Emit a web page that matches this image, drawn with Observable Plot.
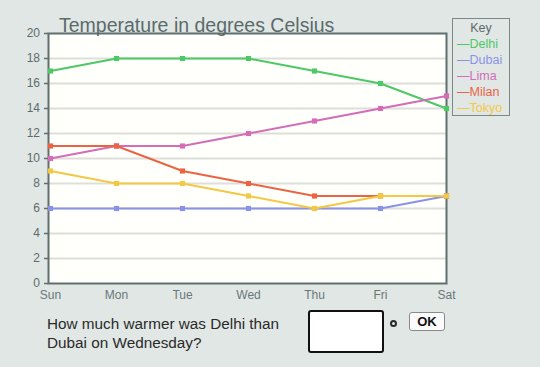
<!DOCTYPE html>
<html>
<head>
<meta charset="utf-8">
<script src="https://cdn.jsdelivr.net/npm/d3@7"></script>
<script src="https://cdn.jsdelivr.net/npm/@observablehq/plot@0.6"></script>
<style>
  html, body { margin: 0; padding: 0; }
  body { width: 540px; height: 367px; overflow: hidden; background: #e1e7e5; position: relative;
         font-family: "Liberation Sans", Arial, sans-serif; }
  #chart { position: absolute; left: 0; top: 0; }
  #title { position: absolute; left: 59px; top: 15px; font-size: 19.5px; line-height: 20px; color: #5b6b6b; white-space: nowrap; }
  #legend { position: absolute; left: 452px; top: 18px; width: 56px; height: 95px; border: 1px solid #7b8888;
            font-size: 12.5px; line-height: 16px; padding-top: 1px; box-sizing: content-box; }
  #legend .key { text-align: center; color: #5b6a6a; }
  #legend .item { padding-left: 4px; white-space: nowrap; }
  #question { position: absolute; left: 47px; top: 314px; font-size: 15.3px; line-height: 19px; color: #2a2a2a; width: 250px; }
  #answer { position: absolute; left: 308px; top: 310px; width: 76px; height: 43px; box-sizing: border-box;
            border: 2px solid #111; border-radius: 3px; background: #fff; }
  #dot { position: absolute; left: 389.5px; top: 319.5px; width: 7px; height: 7px; box-sizing: border-box;
         border: 2px solid #2a2a2a; border-radius: 50%; }
  #ok { position: absolute; left: 409px; top: 312px; width: 36px; height: 19px; box-sizing: border-box;
        border: 1px solid #8a8a8a; border-radius: 3px; background: #fbfbfb; font-weight: bold; font-size: 13px;
        line-height: 17px; text-align: center; color: #111; }
</style>
</head>
<body>
<div id="chart"></div>
<div id="title">Temperature in degrees Celsius</div>
<div id="legend"></div>
<div id="question">How much warmer was Delhi than Dubai on Wednesday?</div>
<div id="answer"></div>
<div id="dot"></div>
<div id="ok">OK</div>
<script>
const days = ["Sun", "Mon", "Tue", "Wed", "Thu", "Fri", "Sat"];
const cities = ["Delhi", "Dubai", "Lima", "Milan", "Tokyo"];
const colors = ["#4cc865", "#8a92e8", "#d46cb8", "#ea6444", "#f2c844"];
const delhi = [17, 18, 18, 18, 17, 16, 14];
const dubai = [6, 6, 6, 6, 6, 6, 7];
const lima = [10, 11, 11, 12, 13, 14, 15];
const milan = [11, 11, 9, 8, 7, 7, 7];
const tokyo = [9, 8, 8, 7, 6, 7, 7];
const yTicks = [0, 2, 4, 6, 8, 10, 12, 14, 16, 18, 20];
const gridTicks = [2, 4, 6, 8, 10, 12, 14, 16, 18];

const seriesValues = [delhi, dubai, lima, milan, tokyo];
const data = [];
cities.forEach((c, i) => seriesValues[i].forEach((v, j) => data.push({city: c, day: days[j], temp: v})));

const font = "Liberation Sans, Arial, sans-serif";
const axisColor = "#5f6e6e";

const chart = Plot.plot({
  width: 540,
  height: 305,
  marginLeft: 48,
  marginRight: 94,
  marginTop: 33,
  marginBottom: 22,
  style: {background: "transparent", fontFamily: font},
  x: {type: "point", domain: days, range: [50, 446], padding: 0},
  y: {domain: [0, 20]},
  color: {domain: cities, range: colors},
  marks: [
    Plot.frame({fill: "#fffffb", stroke: null}),
    Plot.gridY(gridTicks, {stroke: "#dededb", strokeOpacity: 1, strokeWidth: 2}),
    Plot.frame({stroke: axisColor, strokeWidth: 2}),
    Plot.axisY(yTicks, {tickSize: 4, tickPadding: 4.5, stroke: axisColor, strokeWidth: 1.5, fill: "#5e6b6b", fontSize: 12, label: null}),
    Plot.axisX(days, {tickSize: 0, tickPadding: 7, fill: "#6a7777", fontSize: 12, label: null}),
    Plot.line(data, {x: "day", y: "temp", z: "city", stroke: "city", strokeWidth: 2}),
    Plot.dot(data, {x: "day", y: "temp", fill: "city", symbol: "square", r: 2.9})
  ]
});
document.getElementById("chart").appendChild(chart);

const legend = document.getElementById("legend");
const key = document.createElement("div");
key.className = "key";
key.textContent = "Key";
legend.appendChild(key);
cities.forEach((c, i) => {
  const d = document.createElement("div");
  d.className = "item";
  d.style.color = colors[i];
  d.textContent = "\u2014" + c;
  legend.appendChild(d);
});
</script>
</body>
</html>
